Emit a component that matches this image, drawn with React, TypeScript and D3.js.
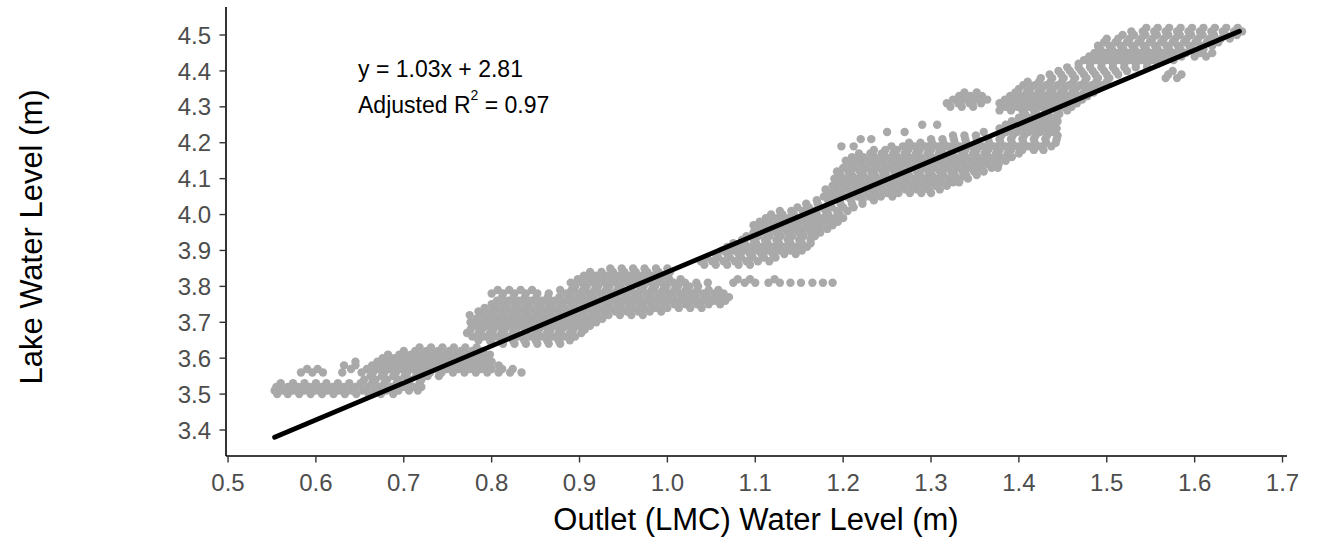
import React from "react";
import * as d3 from "d3";

// Axis ticks
const xTicks = [0.5, 0.6, 0.7, 0.8, 0.9, 1.0, 1.1, 1.2, 1.3, 1.4, 1.5, 1.6, 1.7];
const yTicks = [3.4, 3.5, 3.6, 3.7, 3.8, 3.9, 4.0, 4.1, 4.2, 4.3, 4.4, 4.5];
const xLimits = [0.4977, 1.7051];
const yLimits = [3.3276, 4.578];

// Linear fit
const fitSlope = 1.03;
const fitIntercept = 2.81;
const adjR2 = 0.97;
const fitXRange = [0.553, 1.651];

// Observations: [lake level, [outlet levels...]]
const lowerCluster: [number, number[]][] = [
  [3.50, [0.556, 0.568, 0.581, 0.594, 0.607, 0.62, 0.633, 0.646, 0.66, 0.674, 0.688]],
  [3.51, [0.553, 0.562, 0.574, 0.587, 0.6, 0.613, 0.626, 0.64, 0.653, 0.667, 0.68, 0.694, 0.706, 0.716]],
  [3.52, [0.555, 0.568, 0.58, 0.593, 0.606, 0.619, 0.632, 0.645, 0.659, 0.672, 0.686, 0.699, 0.711, 0.72]],
  [3.53, [0.56, 0.574, 0.587, 0.6, 0.612, 0.625, 0.638, 0.651, 0.664, 0.678, 0.692, 0.705, 0.718]],
  [3.54, [0.655, 0.668, 0.681, 0.694, 0.707, 0.72]],
  [3.55, [0.662, 0.675, 0.688, 0.701, 0.714, 0.727, 0.74]],
  [3.56, [0.583, 0.596, 0.608, 0.63, 0.652, 0.665, 0.678, 0.691, 0.704, 0.717, 0.73, 0.743, 0.756, 0.769, 0.782, 0.795, 0.808, 0.821, 0.834]],
  [3.57, [0.59, 0.602, 0.64, 0.658, 0.671, 0.684, 0.697, 0.71, 0.723, 0.736, 0.749, 0.762, 0.775, 0.788, 0.8, 0.812, 0.824]],
  [3.58, [0.632, 0.645, 0.664, 0.677, 0.69, 0.703, 0.716, 0.729, 0.742, 0.755, 0.768, 0.781, 0.794, 0.808]],
  [3.59, [0.645, 0.67, 0.683, 0.696, 0.709, 0.722, 0.735, 0.748, 0.761, 0.774, 0.787, 0.8]],
  [3.60, [0.676, 0.689, 0.702, 0.715, 0.728, 0.741, 0.754, 0.767, 0.78, 0.793]],
  [3.61, [0.682, 0.695, 0.708, 0.721, 0.734, 0.747, 0.76, 0.773, 0.786, 0.798]],
  [3.62, [0.7, 0.713, 0.726, 0.739, 0.752, 0.765, 0.778, 0.79]],
  [3.63, [0.718, 0.731, 0.744, 0.757, 0.77, 0.783]],
];

const midCluster: [number, number[]][] = [
  [3.64, [0.8, 0.813, 0.826, 0.839, 0.852, 0.865, 0.878]],
  [3.65, [0.785, 0.798, 0.811, 0.824, 0.837, 0.85, 0.863, 0.876, 0.889]],
  [3.66, [0.778, 0.791, 0.804, 0.817, 0.83, 0.843, 0.856, 0.869, 0.882, 0.895]],
  [3.67, [0.772, 0.785, 0.798, 0.811, 0.824, 0.837, 0.85, 0.863, 0.876, 0.889, 0.902]],
  [3.68, [0.776, 0.789, 0.802, 0.815, 0.828, 0.841, 0.854, 0.867, 0.88, 0.893, 0.906]],
  [3.69, [0.782, 0.795, 0.808, 0.821, 0.834, 0.847, 0.86, 0.873, 0.886, 0.899, 0.912]],
  [3.70, [0.776, 0.789, 0.802, 0.815, 0.828, 0.841, 0.854, 0.867, 0.88, 0.893, 0.906, 0.919]],
  [3.71, [0.783, 0.796, 0.809, 0.822, 0.835, 0.848, 0.861, 0.874, 0.887, 0.9, 0.913, 0.926]],
  [3.72, [0.775, 0.79, 0.803, 0.816, 0.829, 0.842, 0.855, 0.868, 0.881, 0.894, 0.907, 0.92, 0.933, 0.946, 0.959, 0.972]],
  [3.73, [0.785, 0.798, 0.811, 0.824, 0.837, 0.85, 0.863, 0.876, 0.889, 0.902, 0.915, 0.928, 0.941, 0.954, 0.967, 0.98, 0.993]],
  [3.74, [0.792, 0.805, 0.818, 0.831, 0.844, 0.857, 0.87, 0.883, 0.896, 0.909, 0.922, 0.935, 0.948, 0.961, 0.974, 0.987, 1.0, 1.013, 1.026, 1.039]],
  [3.75, [0.8, 0.813, 0.826, 0.839, 0.852, 0.865, 0.878, 0.891, 0.904, 0.917, 0.93, 0.943, 0.956, 0.969, 0.982, 0.995, 1.008, 1.021, 1.034, 1.047, 1.06]],
  [3.76, [0.806, 0.819, 0.832, 0.845, 0.858, 0.871, 0.884, 0.897, 0.91, 0.923, 0.936, 0.949, 0.962, 0.975, 0.988, 1.001, 1.014, 1.027, 1.04, 1.053, 1.066]],
  [3.77, [0.812, 0.825, 0.838, 0.851, 0.864, 0.877, 0.89, 0.903, 0.916, 0.929, 0.942, 0.955, 0.968, 0.981, 0.994, 1.007, 1.02, 1.033, 1.046, 1.059, 1.07]],
  [3.78, [0.80, 0.813, 0.826, 0.839, 0.852, 0.865, 0.885, 0.898, 0.911, 0.924, 0.937, 0.95, 0.963, 0.976, 0.989, 1.002, 1.015, 1.028, 1.041, 1.054, 1.064]],
  [3.79, [0.807, 0.82, 0.833, 0.846, 0.878, 0.891, 0.904, 0.917, 0.93, 0.943, 0.956, 0.969, 0.982, 0.995, 1.008, 1.021, 1.034, 1.047, 1.058]],
  [3.80, [0.895, 0.908, 0.921, 0.934, 0.947, 0.96, 0.973, 0.986, 0.999, 1.012, 1.025, 1.035]],
  [3.81, [0.89, 0.903, 0.916, 0.929, 0.942, 0.955, 0.968, 0.981, 0.994, 1.007, 1.02, 1.033, 1.046, 1.075, 1.088, 1.1, 1.115, 1.128, 1.14, 1.152, 1.165, 1.177, 1.188]],
  [3.82, [0.898, 0.911, 0.924, 0.937, 0.95, 0.963, 0.976, 0.989, 1.002, 1.015, 1.08, 1.094, 1.122]],
  [3.83, [0.905, 0.918, 0.931, 0.944, 0.957, 0.97, 0.983, 0.996]],
  [3.84, [0.912, 0.925, 0.938, 0.951, 0.964, 0.977, 0.99, 1.003]],
  [3.85, [0.935, 0.948, 0.961, 0.974, 0.987, 1.0]],
];

const upperMidCluster: [number, number[]][] = [
  [3.86, [1.042, 1.055, 1.068, 1.081, 1.094]],
  [3.87, [1.038, 1.051, 1.064, 1.077, 1.09, 1.103, 1.116]],
  [3.88, [1.045, 1.058, 1.071, 1.084, 1.097, 1.11, 1.123]],
  [3.89, [1.055, 1.068, 1.081, 1.094, 1.107, 1.12, 1.133, 1.146]],
  [3.90, [1.062, 1.075, 1.088, 1.101, 1.114, 1.127, 1.14, 1.153]],
  [3.91, [1.068, 1.081, 1.094, 1.107, 1.12, 1.133, 1.146, 1.159]],
  [3.92, [1.075, 1.088, 1.101, 1.114, 1.127, 1.14, 1.153, 1.163]],
  [3.93, [1.085, 1.098, 1.111, 1.124, 1.137, 1.15, 1.163]],
  [3.94, [1.09, 1.103, 1.116, 1.129, 1.142, 1.155, 1.168]],
  [3.95, [1.098, 1.111, 1.124, 1.137, 1.15, 1.163, 1.174]],
  [3.96, [1.104, 1.117, 1.13, 1.143, 1.156, 1.169, 1.182]],
  [3.97, [1.098, 1.11, 1.123, 1.136, 1.149, 1.162, 1.175, 1.188]],
  [3.98, [1.105, 1.118, 1.131, 1.144, 1.157, 1.17, 1.183, 1.194]],
  [3.99, [1.112, 1.125, 1.138, 1.151, 1.164, 1.177, 1.19, 1.2]],
  [4.00, [1.118, 1.131, 1.144, 1.157, 1.17, 1.183, 1.196]],
  [4.01, [1.128, 1.141, 1.154, 1.167, 1.18, 1.193, 1.205]],
  [4.02, [1.148, 1.161, 1.174, 1.187, 1.2, 1.212]],
  [4.03, [1.158, 1.171, 1.184, 1.197, 1.21, 1.222]],
];

const mainCluster: [number, number[]][] = [
  [4.04, [1.17, 1.183, 1.196, 1.209, 1.222, 1.235]],
  [4.05, [1.178, 1.191, 1.204, 1.217, 1.23, 1.243, 1.256]],
  [4.06, [1.185, 1.198, 1.211, 1.224, 1.237, 1.25, 1.263, 1.276, 1.289, 1.3]],
  [4.07, [1.18, 1.193, 1.206, 1.219, 1.232, 1.245, 1.258, 1.271, 1.284, 1.297, 1.31]],
  [4.08, [1.188, 1.201, 1.214, 1.227, 1.24, 1.253, 1.266, 1.279, 1.292, 1.305, 1.318]],
  [4.09, [1.195, 1.208, 1.221, 1.234, 1.247, 1.26, 1.273, 1.286, 1.299, 1.312, 1.325, 1.332]],
  [4.10, [1.19, 1.203, 1.216, 1.229, 1.242, 1.255, 1.268, 1.281, 1.294, 1.307, 1.32, 1.333, 1.342]],
  [4.11, [1.197, 1.21, 1.223, 1.236, 1.249, 1.262, 1.275, 1.288, 1.301, 1.314, 1.327, 1.34, 1.352]],
  [4.12, [1.193, 1.206, 1.219, 1.232, 1.245, 1.258, 1.271, 1.284, 1.297, 1.31, 1.323, 1.336, 1.349, 1.36]],
  [4.13, [1.2, 1.213, 1.226, 1.239, 1.252, 1.265, 1.278, 1.291, 1.304, 1.317, 1.33, 1.343, 1.356, 1.369, 1.376]],
  [4.14, [1.208, 1.221, 1.234, 1.247, 1.26, 1.273, 1.286, 1.299, 1.312, 1.325, 1.338, 1.351, 1.364, 1.377]],
  [4.15, [1.203, 1.216, 1.229, 1.242, 1.255, 1.268, 1.281, 1.294, 1.307, 1.32, 1.333, 1.346, 1.359, 1.372, 1.385]],
  [4.16, [1.21, 1.223, 1.236, 1.249, 1.262, 1.275, 1.288, 1.301, 1.314, 1.327, 1.34, 1.353, 1.366, 1.379, 1.392]],
  [4.17, [1.218, 1.231, 1.244, 1.257, 1.27, 1.283, 1.296, 1.309, 1.322, 1.335, 1.348, 1.361, 1.374, 1.387, 1.4]],
  [4.18, [1.235, 1.248, 1.261, 1.274, 1.287, 1.3, 1.313, 1.326, 1.339, 1.352, 1.365, 1.378, 1.391, 1.404, 1.417, 1.428]],
  [4.19, [1.198, 1.212, 1.255, 1.268, 1.281, 1.294, 1.307, 1.32, 1.333, 1.346, 1.359, 1.372, 1.385, 1.398, 1.411, 1.424, 1.437]],
  [4.20, [1.275, 1.288, 1.301, 1.314, 1.327, 1.34, 1.353, 1.366, 1.379, 1.392, 1.405, 1.418, 1.431, 1.442]],
  [4.21, [1.22, 1.232, 1.3, 1.313, 1.326, 1.339, 1.352, 1.365, 1.378, 1.391, 1.404, 1.417, 1.43, 1.443]],
  [4.22, [1.325, 1.338, 1.351, 1.38, 1.393, 1.406, 1.419, 1.432, 1.444]],
  [4.23, [1.25, 1.27, 1.36, 1.385, 1.398, 1.411, 1.424, 1.437]],
  [4.24, [1.378, 1.391, 1.404, 1.417, 1.43, 1.443]],
  [4.25, [1.29, 1.307, 1.385, 1.398, 1.411, 1.424, 1.437]],
  [4.26, [1.392, 1.405, 1.418, 1.431, 1.444]],
  [4.27, [1.4, 1.413, 1.426, 1.439]],
  [4.28, [1.407, 1.42, 1.433, 1.446]],
];

const highCluster: [number, number[]][] = [
  [4.29, [1.378, 1.391, 1.404, 1.417, 1.43, 1.443, 1.455]],
  [4.30, [1.322, 1.335, 1.348, 1.385, 1.398, 1.411, 1.424, 1.437, 1.45, 1.46]],
  [4.31, [1.318, 1.331, 1.344, 1.357, 1.378, 1.391, 1.404, 1.417, 1.43, 1.443, 1.456, 1.466]],
  [4.32, [1.325, 1.338, 1.351, 1.364, 1.384, 1.397, 1.41, 1.423, 1.436, 1.449, 1.462, 1.472]],
  [4.33, [1.332, 1.345, 1.358, 1.39, 1.403, 1.416, 1.429, 1.442, 1.455, 1.468, 1.478]],
  [4.34, [1.338, 1.352, 1.396, 1.409, 1.422, 1.435, 1.448, 1.461, 1.474, 1.485]],
  [4.35, [1.4, 1.413, 1.426, 1.439, 1.452, 1.465, 1.478, 1.49]],
  [4.36, [1.405, 1.418, 1.431, 1.444, 1.457, 1.47, 1.483, 1.495]],
  [4.37, [1.41, 1.423, 1.436, 1.449, 1.462, 1.475, 1.488, 1.5]],
  [4.38, [1.425, 1.438, 1.451, 1.464, 1.477, 1.49, 1.503, 1.567, 1.58]],
  [4.39, [1.435, 1.448, 1.461, 1.474, 1.487, 1.5, 1.513, 1.57, 1.585]],
  [4.40, [1.445, 1.458, 1.471, 1.484, 1.497, 1.51, 1.523, 1.575]],
  [4.41, [1.455, 1.468, 1.481, 1.494, 1.507, 1.52, 1.533, 1.546]],
];

const topCluster: [number, number[]][] = [
  [4.42, [1.468, 1.481, 1.494, 1.507, 1.52, 1.533, 1.546, 1.558]],
  [4.43, [1.474, 1.487, 1.5, 1.513, 1.526, 1.539, 1.552, 1.565, 1.576]],
  [4.44, [1.48, 1.493, 1.506, 1.519, 1.532, 1.545, 1.558, 1.571, 1.585, 1.6, 1.613]],
  [4.45, [1.486, 1.499, 1.512, 1.525, 1.538, 1.551, 1.564, 1.577, 1.59, 1.606, 1.62]],
  [4.46, [1.493, 1.506, 1.519, 1.532, 1.545, 1.558, 1.571, 1.584, 1.597, 1.61]],
  [4.47, [1.49, 1.503, 1.516, 1.529, 1.542, 1.555, 1.568, 1.581, 1.594, 1.607, 1.62]],
  [4.48, [1.497, 1.51, 1.523, 1.536, 1.549, 1.562, 1.575, 1.588, 1.601, 1.614, 1.627]],
  [4.49, [1.5, 1.513, 1.526, 1.539, 1.552, 1.565, 1.578, 1.591, 1.604, 1.617, 1.63, 1.64]],
  [4.50, [1.518, 1.531, 1.544, 1.557, 1.57, 1.583, 1.596, 1.609, 1.622, 1.635, 1.648]],
  [4.51, [1.528, 1.541, 1.554, 1.567, 1.58, 1.593, 1.606, 1.619, 1.632, 1.645, 1.654]],
  [4.52, [1.545, 1.558, 1.571, 1.584, 1.597, 1.61, 1.623, 1.636, 1.649]],
];

const FONT = "'Liberation Sans', Arial, Helvetica, sans-serif";

export default function App() {
  const W = 1324;
  const H = 539;
  const x = d3.scaleLinear().domain(xLimits).range([226, 1287]);
  const y = d3.scaleLinear().domain(yLimits).range([456, 7]);

  const clusters = [lowerCluster, midCluster, upperMidCluster, mainCluster, highCluster, topCluster];
  const points = clusters.flatMap((c) =>
    c.flatMap(([lake, outlets]) => outlets.map((o) => ({ o, lake })))
  );

  const fitLine = d3
    .line<number>()
    .x((d) => x(d))
    .y((d) => y(fitSlope * d + fitIntercept));

  const eq = `y = ${fitSlope.toFixed(2)}x + ${fitIntercept.toFixed(2)}`;

  return (
    <svg
      width={W}
      height={H}
      style={{ position: "absolute", left: 0, top: 0, background: "#fff" }}
      fontFamily={FONT}
    >
      <rect x={0} y={0} width={W} height={H} fill="#fff" />
      {/* points */}
      <g fill="#a9a9a9">
        {points.map((p, i) => (
          <circle key={i} cx={x(p.o)} cy={y(p.lake)} r={4.2} />
        ))}
      </g>
      {/* fit line */}
      <path d={fitLine(fitXRange) || ""} stroke="#000" strokeWidth={4.8} fill="none" strokeLinecap="round" />

      {/* annotation */}
      <text x={358} y={77} fontSize={23} fill="#000">{eq}</text>
      <text x={358} y={113} fontSize={23} fill="#000">
        Adjusted R
        <tspan fontSize={14} dy={-13}>2</tspan>
        <tspan dy={13}>{` = ${adjR2.toFixed(2)}`}</tspan>
      </text>

      {/* axes */}
      <line x1={226} x2={1287} y1={456} y2={456} stroke="#000" strokeWidth={1.6} />
      <line x1={226} x2={226} y1={7} y2={456} stroke="#000" strokeWidth={1.6} />
      {xTicks.map((t) => (
        <g key={"x" + t}>
          <line x1={x(t)} x2={x(t)} y1={456} y2={462.5} stroke="#333" strokeWidth={1.4} />
          <text x={x(t)} y={491} textAnchor="middle" fontSize={24} fill="#4d4d4d">
            {t.toFixed(1)}
          </text>
        </g>
      ))}
      {yTicks.map((t) => (
        <g key={"y" + t}>
          <line x1={219.5} x2={226} y1={y(t)} y2={y(t)} stroke="#333" strokeWidth={1.4} />
          <text x={211} y={y(t) + 8.6} textAnchor="end" fontSize={24} fill="#4d4d4d">
            {t.toFixed(1)}
          </text>
        </g>
      ))}

      {/* axis titles */}
      <text x={756} y={529.5} textAnchor="middle" fontSize={31} fill="#000">
        Outlet (LMC) Water Level (m)
      </text>
      <text
        transform={`translate(42,237) rotate(-90)`}
        textAnchor="middle"
        fontSize={31}
        fill="#000"
      >
        Lake Water Level (m)
      </text>
    </svg>
  );
}
